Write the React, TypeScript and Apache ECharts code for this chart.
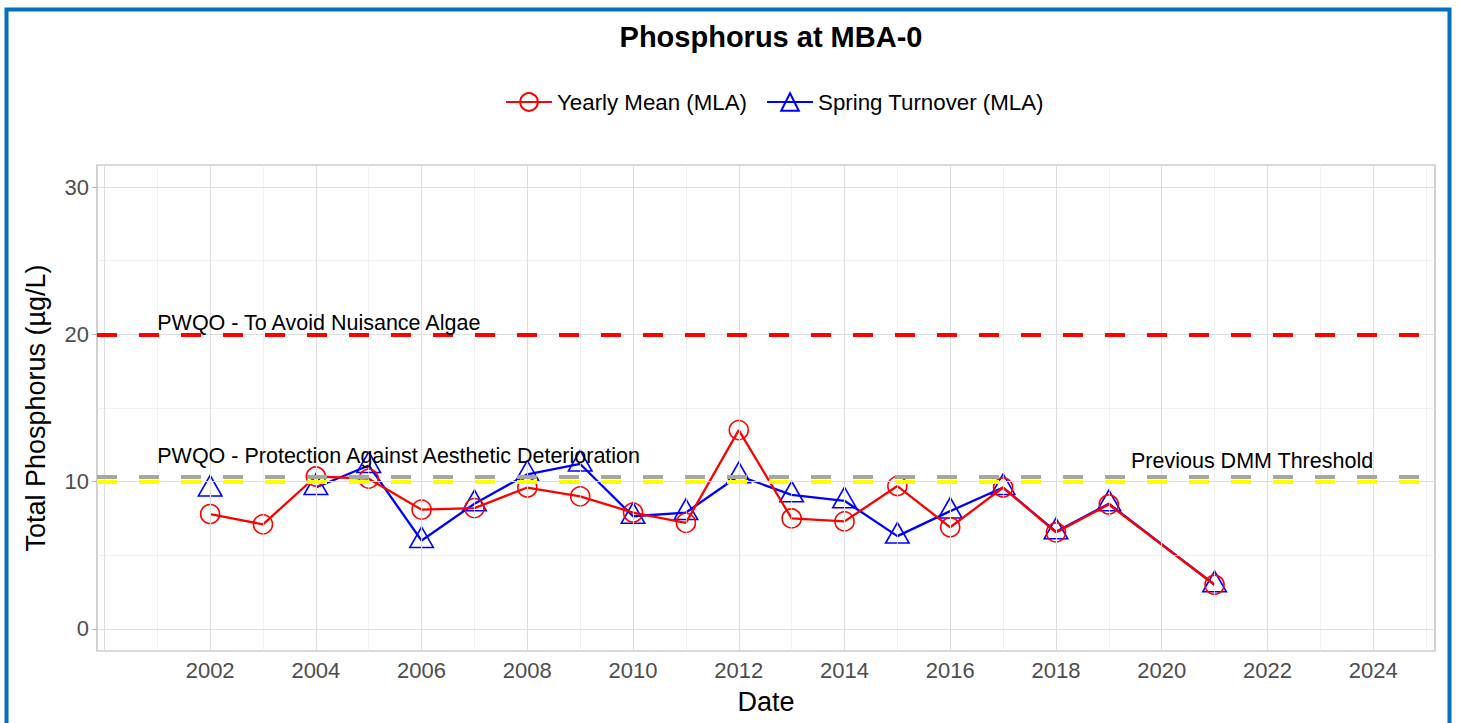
import React, { useEffect, useRef } from "react";
import * as echarts from "echarts";

const years = [2002, 2003, 2004, 2005, 2006, 2007, 2008, 2009, 2010, 2011, 2012, 2013, 2014, 2015, 2016, 2017, 2018, 2019, 2021];
const yearlyMean = [7.8, 7.1, 10.35, 10.2, 8.1, 8.2, 9.6, 9.0, 7.9, 7.2, 13.5, 7.5, 7.3, 9.7, 6.9, 9.6, 6.55, 8.45, 3.0];
const springTurnover: (number | null)[] = [9.5, null, 9.6, 11.1, 6.0, 8.5, 10.5, 11.2, 7.65, 7.9, 10.4, 9.1, 8.7, 6.3, 8.0, 9.6, 6.6, 8.5, 3.0];

const xTickLabels = [2002, 2004, 2006, 2008, 2010, 2012, 2014, 2016, 2018, 2020, 2022, 2024];
const yTickLabels = [0, 10, 20, 30];
const xMajorGrid = [2000, 2002, 2004, 2006, 2008, 2010, 2012, 2014, 2016, 2018, 2020, 2022, 2024];
const xMinorGrid = [2001, 2003, 2005, 2007, 2009, 2011, 2013, 2015, 2017, 2019, 2021, 2023, 2025];
const yMajorGrid = [0, 10, 20, 30];
const yMinorGrid = [5, 15, 25];

const thresholdNames = ["PWQO - To Avoid Nuisance Algae", "PWQO - Protection Against Aesthetic Deterioration", "Previous DMM Threshold"];
const thresholdValues = [20, 10, 10.3];
const thresholdColors = ["#FF0000", "#FFFF00", "#A6A6A6"];
const annotationX = [2001, 2001, 2024];
const annotationY = [20.75, 11.75, 11.4];

const FONT = "'Liberation Sans', Arial, Helvetica, sans-serif";

export default function App() {
  const ref = useRef<HTMLDivElement>(null);
  useEffect(() => {
    if (!ref.current) return;
    const chart = echarts.init(ref.current, null, { renderer: "svg" });
    const option: any = {
      animation: false,
      backgroundColor: "#FFFFFF",
      textStyle: { fontFamily: FONT },
      title: {
        text: "Phosphorus at MBA-0",
        left: 766,
        top: 17,
        textAlign: "center",
        textStyle: { fontFamily: FONT, fontSize: 29, fontWeight: "bold", color: "#000000" },
      },
      legend: {
        data: ["Yearly Mean (MLA)", "Spring Turnover (MLA)"],
        left: 505,
        top: 91,
        padding: 0,
        itemWidth: 46,
        itemHeight: 22,
        itemGap: 19,
        textStyle: { fontFamily: FONT, fontSize: 22.3, color: "#000000" },
      },
      graphic: [
        {
          type: "rect",
          shape: { x: 6.5, y: 9.5, width: 1443, height: 800 },
          style: { fill: "none", stroke: "#0070C0", lineWidth: 4 },
          silent: true,
          z: 100,
        },
      ],
      grid: {
        left: 97,
        right: 22,
        top: 165,
        bottom: 72,
        show: true,
        borderColor: "#B3B3B3",
        borderWidth: 1.2,
        backgroundColor: "transparent",
      },
      xAxis: {
        type: "value",
        min: 1999.86,
        max: 2025.17,
        name: "Date",
        nameLocation: "middle",
        nameGap: 37,
        nameTextStyle: { fontFamily: FONT, fontSize: 27, color: "#000000" },
        axisLine: { show: false },
        splitLine: { show: false },
        axisTick: { show: true, length: 5, customValues: xTickLabels, lineStyle: { color: "#B3B3B3", width: 1.1 } },
        axisLabel: {
          customValues: xTickLabels,
          formatter: (v: number) => String(Math.round(v)),
          fontSize: 22,
          color: "#4D4D4D",
          margin: 8,
          fontFamily: FONT,
        },
      },
      yAxis: {
        type: "value",
        min: -1.5,
        max: 31.5,
        name: "Total Phosphorus (µg/L)",
        nameLocation: "middle",
        nameGap: 48,
        nameTextStyle: { fontFamily: FONT, fontSize: 27, color: "#000000" },
        axisLine: { show: false },
        splitLine: { show: false },
        axisTick: { show: true, length: 5, customValues: yTickLabels, lineStyle: { color: "#B3B3B3", width: 1.1 } },
        axisLabel: {
          customValues: yTickLabels,
          formatter: (v: number) => String(Math.round(v)),
          fontSize: 22,
          color: "#4D4D4D",
          margin: 8,
          fontFamily: FONT,
        },
      },
      series: [
        {
          name: "gridMinor",
          type: "line",
          data: [],
          z: 1,
          silent: true,
          markLine: {
            silent: true,
            symbol: "none",
            animation: false,
            label: { show: false },
            lineStyle: { color: "#EBEBEB", width: 0.7, type: "solid" },
            data: [...xMinorGrid.map((v) => ({ xAxis: v })), ...yMinorGrid.map((v) => ({ yAxis: v }))],
          },
        },
        {
          name: "gridMajor",
          type: "line",
          data: [],
          z: 1,
          silent: true,
          markLine: {
            silent: true,
            symbol: "none",
            animation: false,
            label: { show: false },
            lineStyle: { color: "#DEDEDE", width: 1.1, type: "solid" },
            data: [...xMajorGrid.map((v) => ({ xAxis: v })), ...yMajorGrid.map((v) => ({ yAxis: v }))],
          },
        },
        {
          name: "thresholds",
          type: "line",
          data: [],
          z: 2,
          silent: true,
          markLine: {
            silent: true,
            symbol: "none",
            animation: false,
            label: { show: false },
            data: thresholdValues.map((v, i) => ({
              yAxis: v,
              lineStyle: { color: thresholdColors[i], width: 4, type: [20, 22] },
            })),
          },
        },
        {
          name: "Spring Turnover (MLA)",
          type: "line",
          z: 3,
          data: years.map((yr, i) => [yr, springTurnover[i] == null ? "-" : springTurnover[i]]),
          connectNulls: false,
          symbol: "triangle",
          symbolSize: [23.5, 20.5],
          symbolOffset: [0, -3.3],
          lineStyle: { color: "#0000FF", width: 2.3 },
          itemStyle: { color: "rgba(0,0,0,0)", borderColor: "#0000FF", borderWidth: 1.6 },
        },
        {
          name: "Yearly Mean (MLA)",
          type: "line",
          z: 4,
          data: years.map((yr, i) => [yr, yearlyMean[i]]),
          symbol: "circle",
          symbolSize: 19,
          lineStyle: { color: "#FF0000", width: 2.3 },
          itemStyle: { color: "rgba(0,0,0,0)", borderColor: "#FF0000", borderWidth: 1.6 },
        },
        {
          name: "annotations",
          type: "scatter",
          z: 5,
          silent: true,
          symbolSize: 0,
          label: { show: true, color: "#000000", fontSize: 21.5, fontFamily: FONT },
          data: thresholdNames.map((n, i) => ({
            value: [annotationX[i], annotationY[i]],
            label: {
              show: true,
              formatter: n,
              position: i === 2 ? "left" : "right",
              distance: 0,
              fontSize: 21.5,
              fontFamily: FONT,
              color: "#000000",
              opacity: 1,
            },
          })),
        },
      ],
    };
    chart.setOption(option);
    return () => chart.dispose();
  }, []);
  return <div ref={ref} style={{ position: "fixed", left: 0, top: 0, width: 1457, height: 723 }} />;
}
